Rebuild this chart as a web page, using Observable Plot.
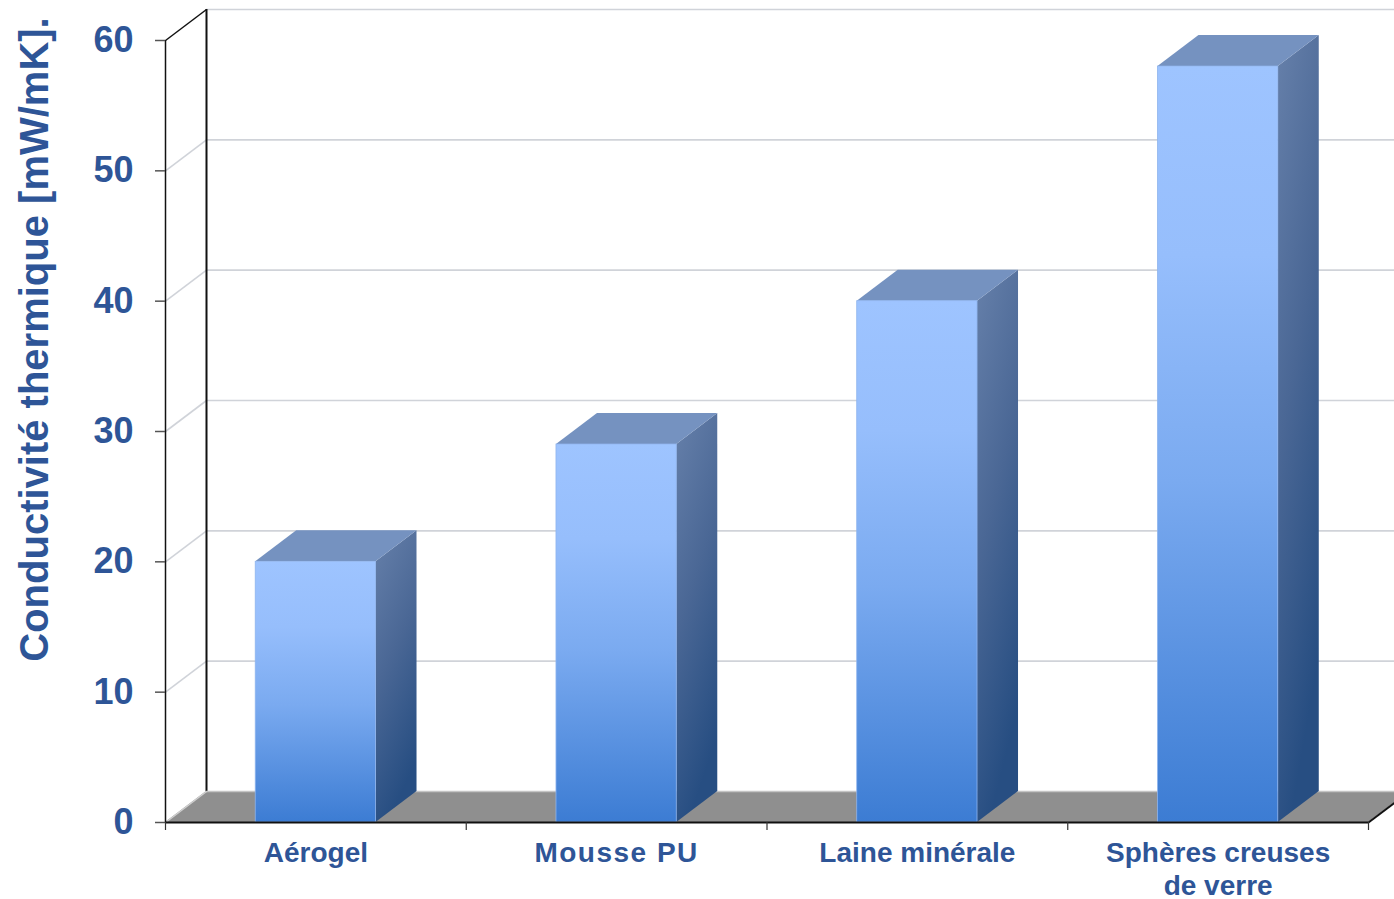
<!DOCTYPE html>
<html lang="fr">
<head>
<meta charset="utf-8">
<title>Conductivité thermique des isolants</title>
<script src="https://cdn.jsdelivr.net/npm/d3@7"></script>
<script src="https://cdn.jsdelivr.net/npm/@observablehq/plot@0.6"></script>
<style>
  html, body { margin: 0; padding: 0; background: #ffffff; }
  #chart svg { display: block; }
</style>
</head>
<body>
<div id="chart"></div>
<script>
// Insulating materials and their thermal conductivity (mW/mK)
const categories = ["Aérogel", "Mousse PU", "Laine minérale", "Sphères creuses\nde verre"];
const conductivity = [20, 29, 40, 58];
const yTicks = [0, 10, 20, 30, 40, 50, 60];

// Layout
const W = 1394, H = 899;
const ML = 165, MR = 26, MT = 40, MB = 77;
const textColor = "#2e5597";
const font = "'Liberation Sans', Arial, Helvetica, sans-serif";

// Depth of the 3-D box, in pixels, turned into data units
const depthPx = {x: 41, y: 31};
const pxPerX = (W - ML - MR) / categories.length;
const pxPerY = (H - MT - MB) / 60;
const dX = depthPx.x / pxPerX;
const dY = depthPx.y / pxPerY;

// Bars occupy the middle 40% of each category slot
const barInset = 0.3;
const bars = categories.map((name, i) => ({
  name, value: conductivity[i],
  x1: i + barInset, x2: i + 1 - barInset
}));

// Right-hand side face of each bar (vertical parallelogram)
const sides = bars.flatMap(b => [
  {name: b.name, x: b.x2, y1: 0, y2: b.value},
  {name: b.name, x: b.x2 + dX, y1: dY, y2: b.value + dY}
]);
// Top face of each bar (slanted parallelogram)
const tops = bars.flatMap(b => [
  {name: b.name, y: b.value, x1: b.x1, x2: b.x2},
  {name: b.name, y: b.value + dY, x1: b.x1 + dX, x2: b.x2 + dX}
]);
// Floor of the chart box
const nCat = categories.length;
const floor = [
  {y: 0, x1: 0, x2: nCat},
  {y: dY, x1: dX, x2: nCat + dX}
];
const boundaries = d3.range(nCat + 1);

// Gradients used by the bar faces
function gradients() {
  const defs = d3.create("svg:defs");
  const front = defs.append("linearGradient")
    .attr("id", "frontGrad").attr("x1", 0).attr("y1", 0).attr("x2", 0).attr("y2", 1);
  [[0, "#9ec4ff"], [0.25, "#96befc"], [0.55, "#7aaaf0"], [1, "#3c7cd3"]]
    .forEach(([o, c]) => front.append("stop").attr("offset", o).attr("stop-color", c));
  const side = defs.append("linearGradient")
    .attr("id", "sideGrad").attr("x1", 0).attr("y1", 0).attr("x2", 0.3).attr("y2", 1);
  [[0, "#6680aa"], [0.5, "#4a6795"], [1, "#274e82"]]
    .forEach(([o, c]) => side.append("stop").attr("offset", o).attr("stop-color", c));
  return defs.node();
}

const chart = Plot.plot({
  width: W,
  height: H,
  marginLeft: ML,
  marginRight: MR,
  marginTop: MT,
  marginBottom: MB,
  style: {fontFamily: font, background: "#ffffff", overflow: "visible"},
  x: {domain: [0, nCat], axis: null},
  y: {domain: [0, 60], axis: null},
  marks: [
    gradients,
    // back wall gridlines
    Plot.ruleY(yTicks.slice(1), {y: d => d + dY, x1: dX, x2: nCat + 2 * dX, stroke: "#d0d3d9", strokeWidth: 1.6}),
    // side wall gridlines
    Plot.link(yTicks.slice(1, -1), {x1: 0, y1: d => d, x2: dX, y2: d => d + dY, stroke: "#d0d3d9", strokeWidth: 1.6}),
    Plot.link([60], {x1: 0, y1: d => d, x2: dX, y2: d => d + dY, stroke: "#111", strokeWidth: 1.5}),
    // back corner edge
    Plot.ruleX([dX], {y1: dY, y2: 60 + dY, stroke: "#111", strokeWidth: 2}),
    // floor
    Plot.areaX(floor, {y: "y", x1: "x1", x2: "x2", fill: "#8f8f8f"}),
    Plot.ruleY([dY], {x1: dX, x2: nCat + 2 * dX, stroke: "#c4c4c4", strokeWidth: 1.5}),
    Plot.link([0], {x1: 0, y1: 0, x2: dX, y2: dY, stroke: "#d0d0d0", strokeWidth: 1.5}),
    // bars: side, top, front
    Plot.areaY(sides, {x: "x", y1: "y1", y2: "y2", z: "name", fill: "url(#sideGrad)"}),
    Plot.areaX(tops, {y: "y", x1: "x1", x2: "x2", z: "name", fill: "#7592c0"}),
    Plot.rect(bars, {x1: "x1", x2: "x2", y1: 0, y2: "value", fill: "url(#frontGrad)", stroke: "#8fb4ee", strokeWidth: 0.8}),
    // front frame edges
    Plot.ruleX([0], {y1: 0, y2: 60, stroke: "#111", strokeWidth: 1.5}),
    Plot.ruleY([0], {x1: 0, x2: nCat, stroke: "#111", strokeWidth: 2}),
    Plot.link([nCat], {x1: d => d, y1: 0, x2: d => d + dX, y2: dY, stroke: "#111", strokeWidth: 2}),
    // axes
    Plot.axisY({ticks: yTicks, tickSize: 10, tickPadding: 22, tickFormat: d => d,
      fontSize: 36, fontWeight: "bold", fill: textColor, stroke: "#555", strokeWidth: 1.5}),
    Plot.axisX({ticks: boundaries, tickSize: 8, tickFormat: () => "", stroke: "#333", strokeWidth: 1.2}),
    // category labels
    Plot.text(categories, {x: (d, i) => i + 0.5, y: 0, text: d => d, dy: 16, lineAnchor: "top",
      lineHeight: 1.18, fontSize: 28, fontWeight: "bold", fill: textColor}),
    // y-axis title
    Plot.text(["Conductivité thermique [mW/mK]."], {frameAnchor: "left", dx: -130, dy: -92, rotate: -90,
      textAnchor: "middle", text: d => d, fontSize: 40, fontWeight: "bold", fill: textColor})
  ]
});

d3.select(chart).selectAll("text")
  .filter(function() { return this.textContent === "Mousse PU"; })
  .attr("letter-spacing", "1.5px");

document.getElementById("chart").append(chart);
</script>
</body>
</html>
